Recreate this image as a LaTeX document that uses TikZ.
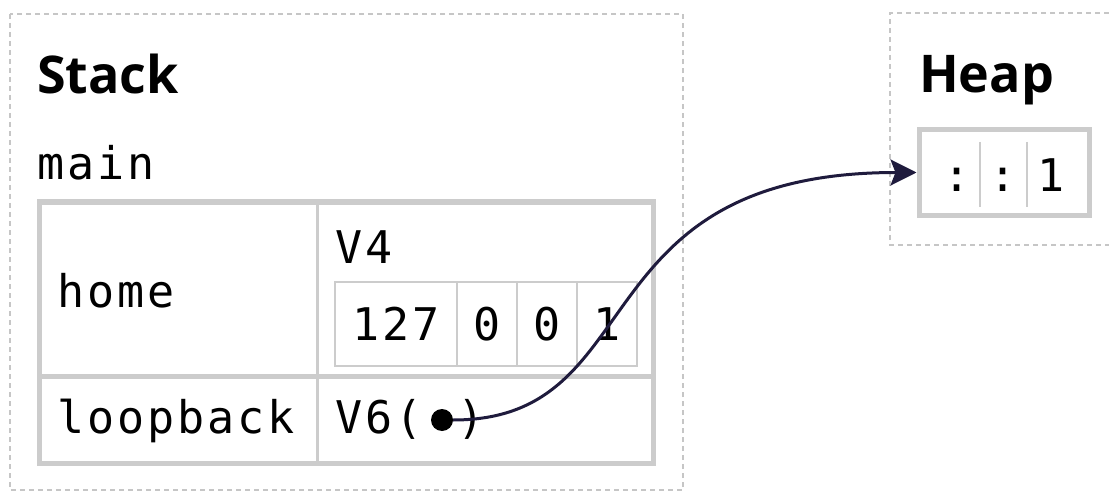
\documentclass[tikz,border=0pt]{standalone}
\usepackage{fontspec}
\usetikzlibrary{arrows.meta}

\newfontfamily\titlefont{Open Sans}
\newfontfamily\codefont{DejaVu Sans Mono}[LetterSpace=6.5]

\definecolor{framegray}{HTML}{CCCCCC}
\definecolor{dashgray}{HTML}{C6C6C6}
\definecolor{pointerink}{HTML}{1F1B3D}

\tikzset{
  heading/.style={anchor=base west, inner sep=0pt, font=\titlefont\bfseries\fontsize{52}{60}\selectfont},
  code/.style={anchor=base west, inner sep=0pt, font=\codefont\fontsize{45}{53}\selectfont},
  codemid/.style={code, anchor=base},
  region/.style={draw=dashgray, line width=1.2pt, dash pattern=on 5pt off 4pt},
  heavy/.style={draw=framegray, line width=5pt},
  thinline/.style={draw=framegray, line width=1.5pt},
  pointer/.style={circle, fill=black, minimum size=22pt, inner sep=0pt},
  link/.style={draw=pointerink, line width=3pt, -{Stealth[length=26pt, width=26pt, inset=5pt]}},
}

\begin{document}
\begin{tikzpicture}[x=1pt, y=-1pt]
\useasboundingbox (0,0) rectangle (1109,492);
\fill[white] (0,0) rectangle (1109,492);

% memory regions
\draw[region] (10,14) rectangle (683,490);
\draw[region] (1109,13) -- (890,13) -- (890,245) -- (1109,245);

\node[heading] (stacktitle) at (37,94) {Stack};
\node[heading] (heaptitle) at (919,93) {Heap};

% stack frame of main
\node[code] (framename) at (37,180) {main};
\draw[heavy] (39.5,202) rectangle (653,463);
\draw[heavy] (39.5,376) -- (653,376);
\draw[draw=framegray, line width=3pt] (317,202) -- (317,463);

\node[code] (homelabel) at (57,307) {home};
\node[code] (looplabel) at (57,433) {loopback};

% home = V4([127, 0, 0, 1])
\node[code] (v4) at (335,263) {V4};
\draw[thinline] (335,282) rectangle (637,366);
\foreach \x in {457,517,577} \draw[thinline] (\x,282) -- (\x,366);
\node[codemid] (oct0) at (396,340) {127};
\node[codemid] (oct1) at (487,340) {0};
\node[codemid] (oct2) at (547,340) {0};
\node[codemid] (oct3) at (607,340) {1};

% loopback = V6(pointer)
\node[code] (v6) at (335,433) {V6(};
\node[pointer] (ptr) at (442,420) {};
\node[code] (v6close) at (457,433) {)};

% heap cell holding ::1
\node[heavy, minimum width=170pt, minimum height=85pt, inner sep=0pt] (heapbox) at (1004,172.5) {};
\draw[thinline] (980,142) -- (980,207);
\draw[thinline] (1027,142) -- (1027,207);
\node[codemid] (seg0) at (957,192) {:};
\node[codemid] (seg1) at (1003,192) {:};
\node[codemid] (seg2) at (1051,192) {1};

% pointer from the stack into the heap
\draw[link] (ptr.east) .. controls +(200,0) and +(-340,0) .. (heapbox.west);
\end{tikzpicture}
\end{document}
